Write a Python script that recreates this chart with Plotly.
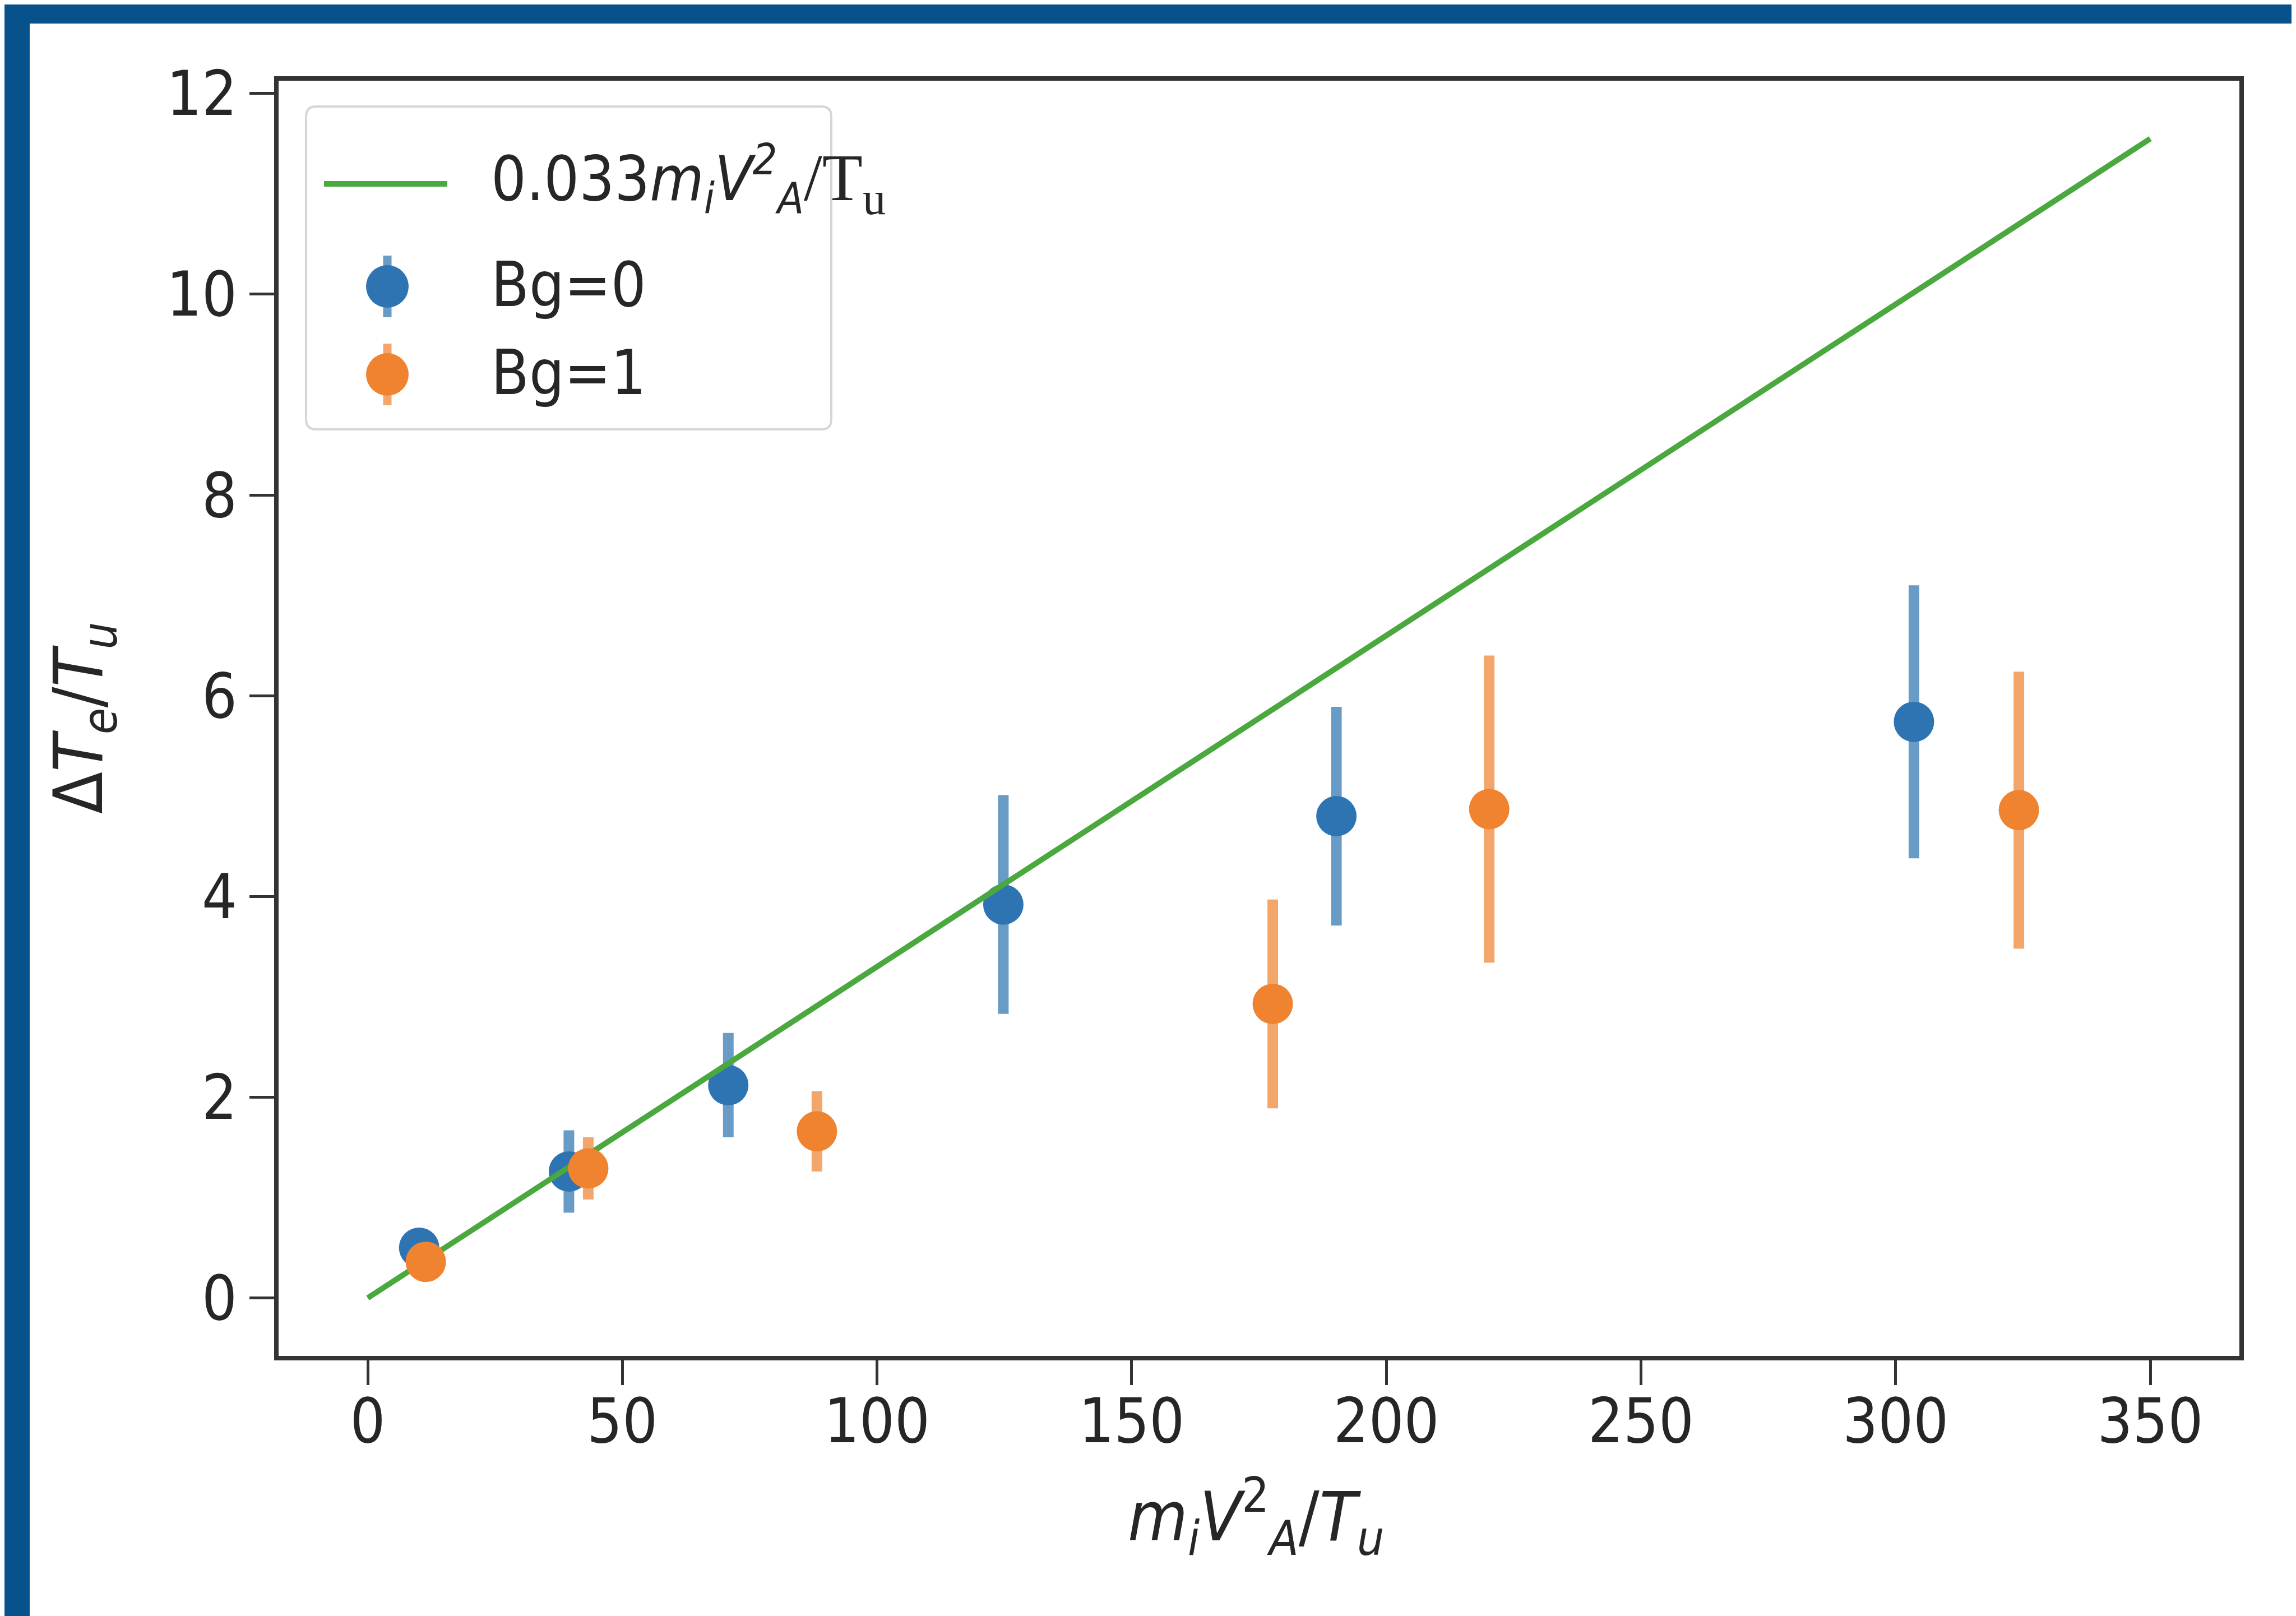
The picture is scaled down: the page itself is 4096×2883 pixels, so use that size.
import plotly.graph_objects as go

# ---------------- data ----------------
fit_x = [0, 350]
fit_y = [0.0, 11.55]

bg0_x = [10.1, 39.5, 70.8, 124.8, 190.2, 303.6]
bg0_y = [0.50, 1.26, 2.12, 3.92, 4.80, 5.74]
bg0_err = [0.12, 0.41, 0.52, 1.09, 1.09, 1.36]

bg1_x = [11.4, 43.3, 88.2, 177.7, 220.2, 324.2]
bg1_y = [0.36, 1.29, 1.66, 2.93, 4.87, 4.86]
bg1_err = [0.10, 0.31, 0.40, 1.04, 1.53, 1.38]

x_ticks = [0, 50, 100, 150, 200, 250, 300, 350]
y_ticks = [0, 2, 4, 6, 8, 10, 12]

# ---------------- styling ----------------
W, H = 4096, 2883
L, R, T, B = 489, 3987, 136, 2411   # plot-area pixel box

BLUE = "#2f74b2"
ORANGE = "#f08330"
BLUE_E = "rgba(47,116,178,0.72)"
ORANGE_E = "rgba(240,131,48,0.72)"
GREEN = "#4aa83f"
FRAME = "#333333"
TXT = "#262626"
BORDER = "#08528b"
SANS = "DejaVu Sans Condensed, DejaVu Sans"
TICK_FS = 110
TITLE_FS = 122


def px_x(px):
    return (px - L) / (R - L)


def px_y(py):
    return (B - py) / (B - T)


fig = go.Figure()

fig.add_trace(go.Scatter(
    x=bg0_x, y=bg0_y, mode="markers", name="Bg=0",
    marker=dict(color=BLUE, size=72, line=dict(width=0)),
    error_y=dict(type="data", array=bg0_err, color=BLUE_E, thickness=19, width=0),
    showlegend=False))

fig.add_trace(go.Scatter(
    x=fit_x, y=fit_y, mode="lines", name="fit",
    line=dict(color=GREEN, width=10), showlegend=False))

fig.add_trace(go.Scatter(
    x=bg1_x, y=bg1_y, mode="markers", name="Bg=1",
    marker=dict(color=ORANGE, size=72, line=dict(width=0)),
    error_y=dict(type="data", array=bg1_err, color=ORANGE_E, thickness=19, width=0),
    showlegend=False))

shapes = []
# dark blue slide border (top and left)
shapes.append(dict(type="rect", xref="paper", yref="paper",
                   x0=px_x(0), x1=px_x(W), y0=px_y(34), y1=px_y(0),
                   fillcolor=BORDER, line=dict(width=0), layer="above"))
shapes.append(dict(type="rect", xref="paper", yref="paper",
                   x0=px_x(0), x1=px_x(45), y0=px_y(H), y1=px_y(0),
                   fillcolor=BORDER, line=dict(width=0), layer="above"))

# legend box (rounded rectangle)
lx0, lx1, ly0, ly1, rr = 538, 1475, 182, 758, 18
def P(px, py):
    return f"{px_x(px):.6f},{px_y(py):.6f}"
path = (f"M {P(lx0+rr, ly0)} L {P(lx1-rr, ly0)} Q {P(lx1, ly0)} {P(lx1, ly0+rr)} "
        f"L {P(lx1, ly1-rr)} Q {P(lx1, ly1)} {P(lx1-rr, ly1)} "
        f"L {P(lx0+rr, ly1)} Q {P(lx0, ly1)} {P(lx0, ly1-rr)} "
        f"L {P(lx0, ly0+rr)} Q {P(lx0, ly0)} {P(lx0+rr, ly0)} Z")
shapes.append(dict(type="path", xref="paper", yref="paper", path=path,
                   fillcolor="rgba(255,255,255,0.85)", line=dict(color="#d6d6d6", width=4),
                   layer="above"))
# legend symbols
shapes.append(dict(type="line", xref="paper", yref="paper",
                   x0=px_x(570), x1=px_x(790), y0=px_y(320), y1=px_y(320),
                   line=dict(color=GREEN, width=10), layer="above"))
for cy, col, ecol in [(503, BLUE, BLUE_E), (660, ORANGE, ORANGE_E)]:
    shapes.append(dict(type="line", xref="paper", yref="paper",
                       x0=px_x(683), x1=px_x(683), y0=px_y(cy - 55), y1=px_y(cy + 55),
                       line=dict(color=ecol, width=15), layer="above"))
    shapes.append(dict(type="circle", xref="paper", yref="paper",
                       x0=px_x(683 - 38), x1=px_x(683 + 38),
                       y0=px_y(cy + 38), y1=px_y(cy - 38),
                       fillcolor=col, line=dict(width=0), layer="above"))

annotations = []
annotations.append(dict(
    xref="paper", yref="paper", x=px_x(866), y=px_y(312), xanchor="left", yanchor="middle",
    showarrow=False, font=dict(family=SANS, size=TICK_FS, color=TXT),
    text=("0.033<i>m<sub>i</sub>V<sup>2</sup><sub>A</sub></i>"
          "<span style=\"font-family:'Liberation Serif';font-size:118px\">/T<sub>u</sub></span>")))
annotations.append(dict(
    xref="paper", yref="paper", x=px_x(866), y=px_y(500), xanchor="left", yanchor="middle",
    showarrow=False, font=dict(family=SANS, size=TICK_FS, color=TXT), text="Bg=0"))
annotations.append(dict(
    xref="paper", yref="paper", x=px_x(866), y=px_y(657), xanchor="left", yanchor="middle",
    showarrow=False, font=dict(family=SANS, size=TICK_FS, color=TXT), text="Bg=1"))

# axis titles
annotations.append(dict(
    xref="paper", yref="paper", x=px_x(2233), y=px_y(2698), xanchor="center", yanchor="middle",
    showarrow=False, font=dict(family=SANS, size=TITLE_FS, color=TXT),
    text="<i>m</i><sub><i>i</i></sub><i>V</i><sup>2</sup><sub><i>A</i></sub>/<i>T</i><sub><i>u</i></sub>"))
annotations.append(dict(
    xref="paper", yref="paper", x=px_x(140), y=px_y(1273), xanchor="center", yanchor="middle",
    textangle=-90, showarrow=False, font=dict(family=SANS, size=TITLE_FS, color=TXT),
    text="Δ<i>T</i><sub><i>e</i></sub>/<i>T</i><sub><i>u</i></sub>"))

axis_common = dict(showline=True, mirror=True, linecolor=FRAME, linewidth=8,
                   ticks="outside", ticklen=44, tickwidth=5, tickcolor=FRAME,
                   showgrid=False, zeroline=False,
                   tickfont=dict(family=SANS, size=TICK_FS, color=TXT))

fig.update_layout(
    width=W, height=H,
    margin=dict(l=L, r=W - R, t=T, b=H - B, pad=0),
    paper_bgcolor="white", plot_bgcolor="white",
    xaxis=dict(range=[-17.5, 367.5], tickmode="array", tickvals=x_ticks,
               ticktext=[str(v) for v in x_ticks], ticklabelstandoff=-30, **axis_common),
    yaxis=dict(range=[-0.5775, 12.1275], tickmode="array", tickvals=y_ticks,
               ticktext=[str(v) for v in y_ticks], **axis_common),
    shapes=shapes, annotations=annotations, showlegend=False,
)

fig.write_html("out.html")
